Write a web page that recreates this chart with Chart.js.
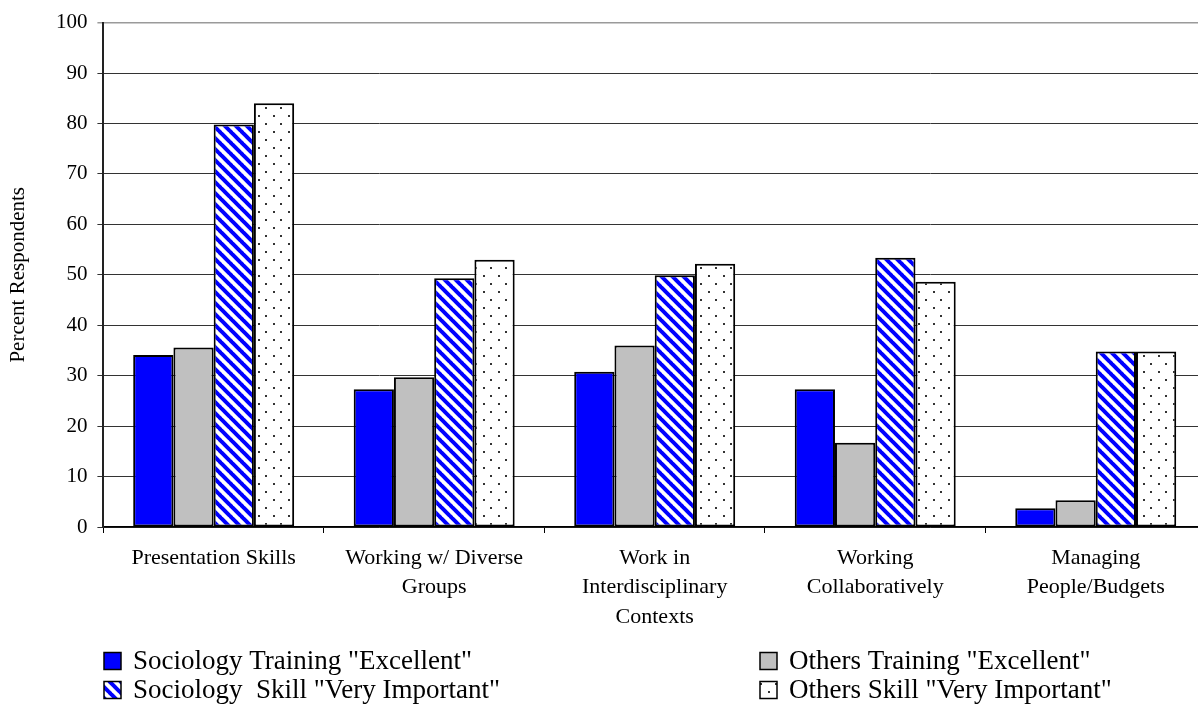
<!DOCTYPE html>
<html lang="en">
  <head>
    <meta charset="UTF-8" />
    <title>Skills: Training vs Importance</title>
    <script src="https://cdn.jsdelivr.net/npm/chart.js"></script>
    <style>
      html,
      body {
        margin: 0;
        padding: 0;
        overflow: hidden;
        background: #fff;
      }
      #wrap {
        width: 1206px;
        height: 707px;
      }
    </style>
  </head>
  <body>
    <div id="wrap">
      <canvas id="skillsChart" width="1206" height="707"></canvas>
    </div>

    <script>
      // Skill categories (multi-line axis labels)
      const skills = [
        ['Presentation Skills'],
        ['Working w/ Diverse', 'Groups'],
        ['Work in', 'Interdisciplinary', 'Contexts'],
        ['Working', 'Collaboratively'],
        ['Managing', 'People/Budgets']
      ]

      // Percent of respondents per group
      const sociologyTraining = [34.1, 27.3, 30.8, 27.3, 3.7]
      const othersTraining = [35.6, 29.7, 36.0, 16.7, 5.3]
      const sociologySkill = [79.8, 49.3, 49.9, 53.4, 34.8]
      const othersSkill = [84.0, 53.0, 52.2, 48.6, 34.8]

      const seriesNames = [
        'Sociology Training "Excellent"',
        'Others Training "Excellent"',
        'Sociology  Skill "Very Important"',
        'Others Skill "Very Important"'
      ]

      const yTicks = [0, 10, 20, 30, 40, 50, 60, 70, 80, 90, 100]

      const FONT = "'Liberation Serif', 'Times New Roman', serif"

      // Blue diagonal stripes, running top-left to bottom-right
      function makeHatch() {
        const s = 11
        const c = document.createElement('canvas')
        c.width = s
        c.height = s
        const g = c.getContext('2d')
        g.fillStyle = '#fff'
        g.fillRect(0, 0, s, s)
        g.strokeStyle = '#0000ff'
        g.lineWidth = 4
        for (let x0 = -s; x0 <= s; x0 += s) {
          g.beginPath()
          g.moveTo(x0 - 1, -1)
          g.lineTo(x0 + s + 1, s + 1)
          g.stroke()
        }
        return g.createPattern(c, 'repeat')
      }

      // Sparse staggered dots on white
      function makeDots() {
        const c = document.createElement('canvas')
        c.width = 15
        c.height = 16
        const g = c.getContext('2d')
        g.fillStyle = '#fff'
        g.fillRect(0, 0, 15, 16)
        g.fillStyle = '#333'
        g.fillRect(3, 3, 2, 2)
        g.fillRect(10, 11, 2, 2)
        return g.createPattern(c, 'repeat')
      }

      const fills = ['#0000ff', '#c0c0c0', makeHatch(), makeDots()]
      const values = [sociologyTraining, othersTraining, sociologySkill, othersSkill]

      // Two-column legend under the axis labels
      const legendPlugin = {
        id: 'twoColLegend',
        afterDraw(chart) {
          const ctx = chart.ctx
          const cols = [104, 760]
          const rows = [661, 690]
          ctx.save()
          ctx.font = '27px ' + FONT
          ctx.textBaseline = 'middle'
          chart.data.datasets.forEach((ds, i) => {
            const x = cols[i % 2]
            const y = rows[Math.floor(i / 2)]
            const sz = 17
            ctx.fillStyle = ds.backgroundColor
            ctx.fillRect(x, y - sz / 2, sz, sz)
            ctx.strokeStyle = '#000'
            ctx.lineWidth = 1.5
            ctx.strokeRect(x, y - sz / 2, sz, sz)
            ctx.fillStyle = '#000'
            ctx.fillText(ds.label, x + 29, y + 1)
          })
          ctx.restore()
        }
      }

      const ctx = document.getElementById('skillsChart').getContext('2d')
      new Chart(ctx, {
        type: 'bar',
        data: {
          labels: skills,
          datasets: values.map((v, i) => ({
            label: seriesNames[i],
            data: v,
            backgroundColor: fills[i],
            borderColor: '#000',
            borderWidth: 2,
            borderSkipped: false,
            categoryPercentage: 0.73,
            barPercentage: 1
          }))
        },
        options: {
          responsive: false,
          animation: false,
          layout: { padding: { top: 21, right: 0, left: 0, bottom: 70 } },
          plugins: {
            legend: { display: false },
            tooltip: { enabled: false }
          },
          scales: {
            x: {
              afterFit: scale => {
                scale.height = 110
              },
              grid: {
                offset: true,
                drawOnChartArea: false,
                drawTicks: true,
                tickLength: 6,
                color: '#000',
                lineWidth: 1
              },
              border: { display: true, color: '#000', width: 1.5 },
              ticks: {
                color: '#000',
                padding: 10,
                maxRotation: 0,
                autoSkip: false,
                font: { family: FONT, size: 22, lineHeight: 1.35 }
              }
            },
            y: {
              min: 0,
              max: 100,
              afterFit: scale => {
                scale.width = 103.4
              },
              afterBuildTicks: scale => {
                scale.ticks = yTicks.map(v => ({ value: v }))
              },
              grid: {
                color: c => (c.tick && c.tick.value === 100 ? '#9a9a9a' : '#333'),
                lineWidth: c => (c.tick && c.tick.value === 100 ? 1.5 : 1),
                tickLength: 6,
                drawTicks: true
              },
              border: { display: true, color: '#222', width: 2 },
              ticks: {
                color: '#000',
                padding: 10,
                font: { family: FONT, size: 21 }
              },
              title: {
                display: true,
                text: 'Percent Respondents',
                color: '#000',
                padding: { top: 6, bottom: 0 },
                font: { family: FONT, size: 21 }
              }
            }
          }
        },
        plugins: [legendPlugin]
      })
    </script>
  </body>
</html>
